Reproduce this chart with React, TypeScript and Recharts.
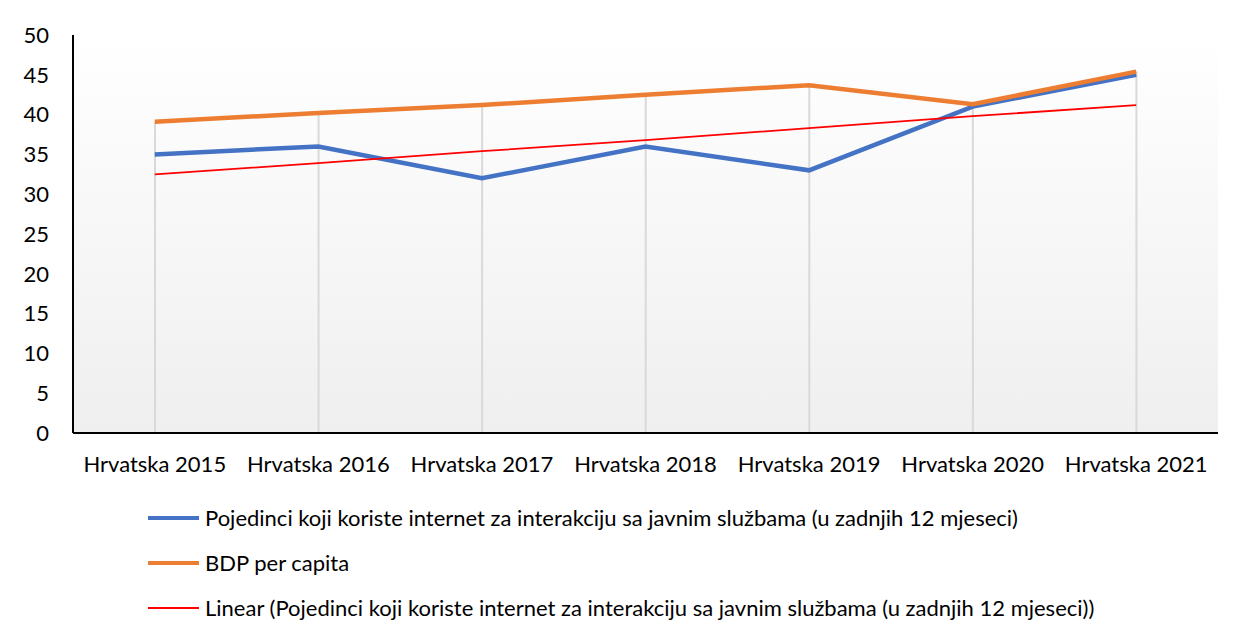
import React from "react";
import {
   ComposedChart, Line, Bar, XAxis, YAxis, CartesianGrid, Legend,
} from "recharts";

const years = [
   "Hrvatska 2015", "Hrvatska 2016", "Hrvatska 2017", "Hrvatska 2018",
   "Hrvatska 2019", "Hrvatska 2020", "Hrvatska 2021",
];
const pojedinci = [35, 36, 32, 36, 33, 41, 45];
const bdp = [39.1, 40.2, 41.2, 42.5, 43.7, 41.3, 45.4];
const linear = [32.5, 33.9, 35.4, 36.8, 38.3, 39.8, 41.2];
const yTicks = [0, 5, 10, 15, 20, 25, 30, 35, 40, 45, 50];

const seriesNames = {
   pojedinci: "Pojedinci koji koriste internet za interakciju sa javnim službama (u zadnjih 12 mjeseci)",
   bdp: "BDP per capita",
   linear: "Linear (Pojedinci koji koriste internet za interakciju sa javnim službama (u zadnjih 12 mjeseci))",
};

const data = years.map((name, i) => ({
   name,
   pojedinci: pojedinci[i],
   bdp: bdp[i],
   linear: linear[i],
}));

const FONT = "Lato, 'Open Sans', sans-serif";
const FONT_SIZE = 22;

const legendItems = [
   { label: seriesNames.pojedinci, color: "#4472C4", width: 4 },
   { label: seriesNames.bdp, color: "#ED7D31", width: 4 },
   { label: seriesNames.linear, color: "#FF0000", width: 2 },
];

function LegendBlock() {
   return (
      <div style={{ fontFamily: FONT, fontSize: FONT_SIZE, color: "#000" }}>
         {legendItems.map((item) => (
            <div key={item.label} style={{ display: "flex", alignItems: "center", height: 45 }}>
               <svg width={51} height={8} style={{ marginRight: 6, flexShrink: 0 }}>
                  <line x1={0} x2={51} y1={4} y2={4} stroke={item.color} strokeWidth={item.width} />
               </svg>
               <span style={{ whiteSpace: "nowrap" }}>{item.label}</span>
            </div>
         ))}
      </div>
   );
}

export default function App() {
   return (
      <div
         style={{
            marginTop: -3,
            marginLeft: -1,
            width: 1238,
            height: 640,
            border: "1px solid #d9d9d9",
            background: "#fff",
         }}
      >
         <ComposedChart
            width={1238}
            height={628}
            data={data}
            margin={{ top: 29, right: 28, bottom: 161, left: 25 }}
         >
            <defs>
               <linearGradient id="plotBg" x1="0" y1="0" x2="0" y2="1">
                  <stop offset="0%" stopColor="#ffffff" />
                  <stop offset="100%" stopColor="#efefef" />
               </linearGradient>
            </defs>
            <CartesianGrid horizontal={false} vertical={false} fill="url(#plotBg)" />
            <XAxis
               dataKey="name"
               axisLine={{ stroke: "#000", strokeWidth: 2 }}
               tickLine={false}
               tickSize={0}
               tickMargin={23}
               height={40}
               interval={0}
               tick={{ fill: "#000", fontSize: FONT_SIZE, fontFamily: FONT }}
            />
            <YAxis
               domain={[0, 50]}
               ticks={yTicks}
               width={40}
               axisLine={{ stroke: "#000", strokeWidth: 2 }}
               tickLine={false}
               tickSize={0}
               tickMargin={24}
               tick={{ fill: "#000", fontSize: FONT_SIZE, fontFamily: FONT }}
            />
            <Bar dataKey="bdp" barSize={2} fill="#d9d9d9" isAnimationActive={false} legendType="none" />
            <Line
               type="linear"
               dataKey="pojedinci"
               name={seriesNames.pojedinci}
               stroke="#4472C4"
               strokeWidth={4.5}
               dot={false}
               isAnimationActive={false}
            />
            <Line
               type="linear"
               dataKey="bdp"
               name={seriesNames.bdp}
               stroke="#ED7D31"
               strokeWidth={4.5}
               dot={false}
               isAnimationActive={false}
            />
            <Line
               type="linear"
               dataKey="linear"
               name={seriesNames.linear}
               stroke="#FF0000"
               strokeWidth={1.8}
               dot={false}
               isAnimationActive={false}
            />
            <Legend
               layout="horizontal"
               verticalAlign="middle"
               align="center"
               content={() => <LegendBlock />}
               wrapperStyle={{ top: 489, left: 140, width: 1080, height: 135 }}
            />
         </ComposedChart>
      </div>
   );
}
